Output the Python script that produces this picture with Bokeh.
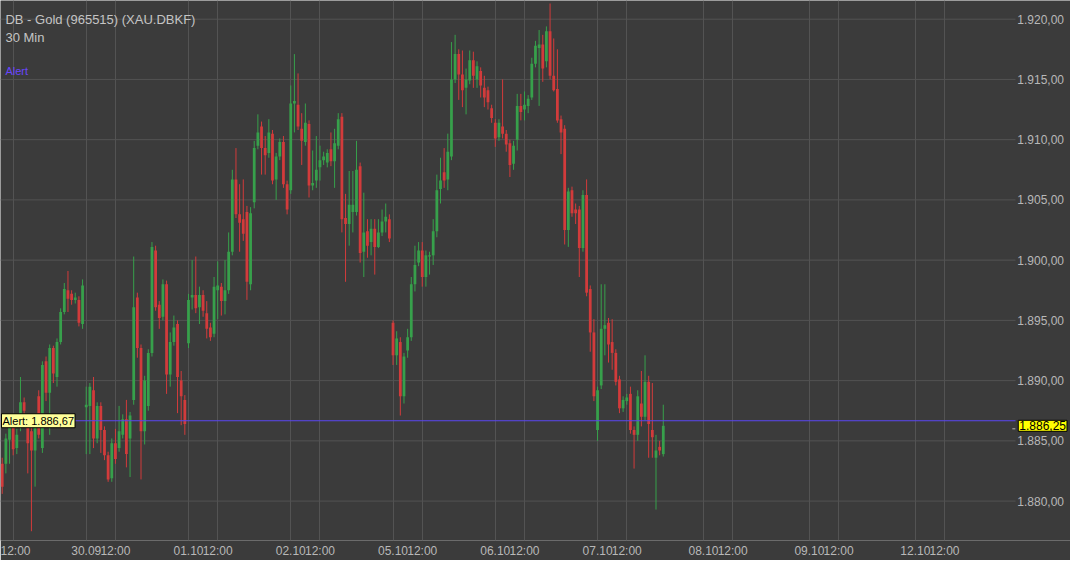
from bokeh.plotting import figure
from bokeh.models import (ColumnDataSource, Range1d, FixedTicker, Label,
                          AllLabels)
from bokeh.core.properties import value
from bokeh.embed import file_html
from bokeh.resources import INLINE

# ---------------- data (30 min bars, 08:00-22:00 per trading day) ----------------
first_slot = 5  # 29.09 10:30
open_ = [
    1883.1, 1883.1, 1885.1, 1886.3, 1884.4, 1886.3, 1888.2, 1886.4, 1885.8, 1884.2,
    1888.7, 1884.4, 1891.6, 1889.0, 1892.7, 1890.3, 1893.2, 1895.7, 1897.5, 1897.2,
    1896.7, 1896.7, 1894.7, 1887.8, 1887.9, 1889.2, 1885.2, 1887.9, 1885.9, 1883.8,
    1881.9, 1884.8, 1884.4, 1885.5, 1886.8, 1885.2, 1888.4, 1896.9, 1892.7, 1885.8,
    1887.9, 1892.3, 1900.8, 1896.3, 1895.3, 1898.0, 1890.5, 1893.2, 1894.7, 1890.0,
    1888.4, 1893.1, 1896.9, 1897.1, 1896.1, 1897.1, 1895.6, 1894.4, 1893.9, 1897.5,
    1897.8, 1896.6, 1897.5, 1900.7, 1906.7, 1903.8, 1903.4, 1904.0, 1898.0, 1904.8,
    1909.5, 1911.1, 1909.3, 1908.9, 1910.5, 1906.7, 1908.6, 1909.8, 1906.3, 1905.8,
    1913.0, 1912.9, 1910.9, 1909.8, 1911.3, 1906.2, 1906.6, 1907.7, 1908.3, 1908.1,
    1909.2, 1908.2, 1909.5, 1911.9, 1903.5, 1903.0, 1904.0, 1904.0, 1907.8, 1900.7,
    1902.4, 1901.5, 1902.6, 1901.1, 1902.3, 1903.2, 1903.4, 1894.8, 1892.1, 1893.2,
    1888.7, 1892.5, 1893.6, 1898.0, 1899.8, 1900.8, 1898.6, 1900.3, 1900.4, 1902.4,
    1905.9, 1907.3, 1906.7, 1908.6, 1915.0, 1917.1, 1915.4, 1914.3, 1914.9, 1916.6,
    1915.0, 1915.7, 1914.3, 1914.1, 1912.6, 1911.4, 1910.2, 1911.1, 1910.5, 1909.7,
    1908.0, 1910.0, 1912.8, 1912.5, 1912.8, 1913.5, 1916.3, 1917.6, 1917.9, 1916.5,
    1919.0, 1915.3, 1914.2, 1911.7, 1910.9, 1902.5, 1905.8, 1904.2, 1904.2, 1901.0,
    1905.4, 1897.6, 1894.0, 1885.9, 1889.6, 1894.3, 1894.8, 1893.2, 1892.3, 1890.1,
    1887.7, 1888.3, 1888.9, 1885.9, 1885.5, 1888.1, 1887.0, 1889.9, 1885.9, 1883.6,
    1884.5, 1883.9,
]
high = [
    1883.6, 1885.6, 1886.7, 1886.6, 1886.0, 1890.3, 1888.6, 1887.0, 1886.2, 1887.0,
    1889.2, 1891.6, 1892.0, 1893.0, 1892.9, 1893.5, 1896.0, 1898.1, 1899.1, 1897.5,
    1897.3, 1897.0, 1898.4, 1889.5, 1889.8, 1890.3, 1888.2, 1888.2, 1886.2, 1884.1,
    1885.2, 1886.0, 1887.9, 1887.2, 1888.4, 1887.4, 1900.3, 1897.3, 1893.0, 1890.4,
    1892.6, 1901.5, 1901.2, 1896.6, 1898.4, 1898.3, 1894.0, 1895.4, 1895.0, 1890.8,
    1888.8, 1897.2, 1900.0, 1900.3, 1897.8, 1897.5, 1896.6, 1894.8, 1898.6, 1899.9,
    1898.1, 1900.0, 1902.3, 1907.5, 1909.3, 1906.3, 1906.7, 1904.5, 1904.4, 1909.9,
    1912.1, 1911.5, 1910.3, 1911.7, 1910.8, 1908.9, 1910.1, 1910.3, 1906.6, 1914.5,
    1917.1, 1915.5, 1912.2, 1913.0, 1911.6, 1909.1, 1910.3, 1909.5, 1909.0, 1909.2,
    1910.6, 1910.9, 1912.2, 1912.2, 1905.5, 1907.4, 1907.4, 1909.9, 1908.1, 1905.6,
    1903.4, 1903.4, 1903.4, 1903.4, 1904.2, 1904.7, 1903.8, 1895.0, 1894.1, 1893.6,
    1892.3, 1894.3, 1898.6, 1901.2, 1901.5, 1901.5, 1900.8, 1900.7, 1903.4, 1907.1,
    1908.5, 1909.3, 1910.5, 1918.1, 1918.7, 1917.5, 1917.4, 1915.9, 1917.4, 1917.3,
    1916.5, 1916.0, 1915.3, 1914.4, 1912.9, 1911.7, 1911.7, 1915.0, 1910.8, 1910.0,
    1909.9, 1913.8, 1913.8, 1914.0, 1913.7, 1916.8, 1918.2, 1919.1, 1918.7, 1919.4,
    1921.3, 1918.4, 1917.5, 1912.0, 1911.2, 1906.0, 1906.1, 1904.7, 1904.5, 1905.8,
    1906.7, 1897.9, 1895.1, 1889.5, 1898.0, 1898.0, 1895.2, 1895.1, 1892.6, 1890.4,
    1888.7, 1888.9, 1889.5, 1886.2, 1889.2, 1890.8, 1892.1, 1890.4, 1889.8, 1885.5,
    1885.0, 1888.0,
]
low = [
    1880.6, 1882.3, 1883.1, 1883.8, 1883.9, 1885.8, 1886.8, 1882.3, 1877.5, 1881.2,
    1885.2, 1884.0, 1888.3, 1885.5, 1889.8, 1889.5, 1893.0, 1895.5, 1895.7, 1896.3,
    1896.4, 1894.5, 1894.3, 1883.9, 1883.9, 1884.4, 1884.8, 1884.0, 1883.4, 1881.6,
    1881.6, 1883.1, 1884.1, 1885.2, 1882.8, 1882.0, 1888.0, 1891.9, 1881.8, 1884.7,
    1887.5, 1892.0, 1895.8, 1894.3, 1895.0, 1888.9, 1889.5, 1892.9, 1887.3, 1886.3,
    1885.5, 1892.7, 1895.9, 1895.6, 1894.7, 1895.3, 1893.5, 1893.3, 1893.6, 1895.1,
    1895.4, 1895.5, 1897.2, 1900.4, 1903.5, 1900.7, 1901.6, 1896.7, 1897.5, 1904.3,
    1909.2, 1907.1, 1907.1, 1908.5, 1906.3, 1905.0, 1908.3, 1906.0, 1903.8, 1905.5,
    1910.6, 1910.8, 1907.9, 1909.5, 1905.2, 1905.8, 1906.0, 1906.6, 1907.9, 1907.7,
    1907.8, 1906.0, 1909.2, 1902.3, 1898.2, 1901.2, 1902.3, 1903.7, 1899.8, 1898.6,
    1900.2, 1900.4, 1898.8, 1901.0, 1902.0, 1902.3, 1901.5, 1891.3, 1891.3, 1887.1,
    1888.1, 1891.9, 1893.3, 1897.4, 1899.5, 1897.8, 1897.8, 1898.8, 1899.6, 1901.9,
    1904.7, 1906.0, 1905.8, 1908.3, 1914.7, 1913.3, 1912.7, 1912.1, 1914.6, 1914.3,
    1914.3, 1913.5, 1912.7, 1912.5, 1911.4, 1909.4, 1909.9, 1910.1, 1909.0, 1906.9,
    1907.5, 1909.1, 1911.6, 1911.6, 1912.2, 1913.3, 1916.0, 1912.8, 1914.8, 1916.0,
    1915.0, 1914.0, 1911.4, 1908.8, 1901.3, 1901.1, 1903.6, 1903.0, 1898.6, 1900.7,
    1897.0, 1892.4, 1888.3, 1885.0, 1889.3, 1892.1, 1891.5, 1890.9, 1889.6, 1887.3,
    1887.4, 1888.0, 1885.6, 1882.7, 1885.0, 1886.2, 1886.7, 1883.6, 1883.6, 1879.3,
    1883.8, 1883.7,
]
close = [
    1881.2, 1885.2, 1886.2, 1884.3, 1885.5, 1888.2, 1887.5, 1884.8, 1884.2, 1886.6,
    1885.5, 1891.3, 1889.0, 1892.7, 1890.6, 1893.2, 1895.7, 1897.6, 1896.8, 1896.7,
    1896.9, 1894.8, 1897.9, 1888.0, 1889.5, 1885.2, 1887.9, 1885.9, 1883.8, 1881.8,
    1884.8, 1883.5, 1885.8, 1886.8, 1883.9, 1887.1, 1896.1, 1892.7, 1885.8, 1890.0,
    1892.3, 1901.1, 1896.1, 1895.2, 1898.0, 1890.5, 1893.2, 1894.4, 1890.3, 1888.7,
    1886.4, 1896.7, 1897.1, 1896.0, 1897.1, 1895.8, 1894.3, 1893.6, 1897.8, 1897.9,
    1896.6, 1897.5, 1900.7, 1906.7, 1903.8, 1903.1, 1902.2, 1898.2, 1903.9, 1909.3,
    1910.6, 1909.3, 1908.7, 1910.6, 1906.6, 1908.6, 1909.8, 1906.3, 1904.2, 1913.0,
    1913.2, 1911.1, 1909.9, 1911.4, 1906.2, 1906.4, 1907.5, 1908.3, 1908.6, 1908.9,
    1908.2, 1909.7, 1911.7, 1903.4, 1903.0, 1904.6, 1904.6, 1907.5, 1900.6, 1902.3,
    1901.2, 1902.6, 1901.1, 1902.3, 1903.2, 1903.6, 1901.8, 1892.1, 1893.5, 1888.7,
    1892.0, 1893.6, 1898.0, 1899.6, 1900.8, 1898.6, 1900.4, 1900.4, 1902.4, 1905.8,
    1906.6, 1906.6, 1909.0, 1915.0, 1917.1, 1915.4, 1914.1, 1915.0, 1916.6, 1915.3,
    1916.1, 1914.5, 1913.5, 1913.1, 1911.8, 1910.1, 1911.4, 1910.5, 1909.6, 1907.9,
    1909.5, 1912.8, 1912.3, 1912.9, 1913.4, 1916.3, 1917.8, 1917.9, 1915.9, 1919.0,
    1915.3, 1914.1, 1911.6, 1910.6, 1902.5, 1905.7, 1903.9, 1903.9, 1901.0, 1905.4,
    1897.3, 1894.0, 1888.7, 1889.2, 1894.3, 1894.6, 1893.0, 1892.3, 1889.9, 1887.7,
    1888.4, 1888.6, 1885.9, 1885.5, 1888.7, 1887.0, 1889.9, 1886.4, 1885.3, 1884.2,
    1884.2, 1886.25,
]
slots = list(range(first_slot, first_slot + len(close)))

# x-axis ticks (bar-slot positions) and their labels
tick_slots = [8, 28, 36, 56, 64, 84, 92, 112, 120, 140, 148, 168, 176,
              197, 205, 226, 234, 255, 263]
tick_labels = ["12:00", "30.09", "12:00", "01.10", "12:00", "02.10", "12:00",
               "05.10", "12:00", "06.10", "12:00", "07.10", "12:00",
               "08.10", "12:00", "09.10", "12:00", "12.10", "12:00"]
price_ticks = [1880, 1885, 1890, 1895, 1900, 1905, 1910, 1915, 1920]
alert_level = 1886.67
last_price = close[-1]

title_lines = ["DB - Gold (965515) (XAU.DBKF)", "30 Min"]


def de(v):
    s = f"{v:,.2f}"
    return s.replace(",", "X").replace(".", ",").replace("X", ".")


# ---------------- styling / layout ----------------
BG = "#3b3b3b"
GRID = "#535353"
TXT = "#b8b8b8"
UP = "#37a04b"
DOWN = "#d23b3b"
FONT = "Liberation Sans"

W, H = 1070, 560
FRAME_H = 542
# reference-pixel geometry (chart drawn at 1086x576, scaled to W x H)
X0, X1 = 4.53, 297.49          # bar-slot positions at ref x = 0 and 1086
Y0, Y1 = 1876.73, 1921.55      # prices at ref y = 557.4 and 0
FW_REF, FH_REF = 1086.0, 557.4
PRICE_AREA_REF = 1030.2        # ref x where the price-label column starts


def rx(px):
    return X0 + px / FW_REF * (X1 - X0)


def ry(py):
    return Y1 - py / FH_REF * (Y1 - Y0)


p = figure(width=W, height=H, output_backend="svg", toolbar_location=None,
           x_range=Range1d(X0, X1), y_range=Range1d(Y0, Y1),
           y_axis_location=None,
           min_border_left=0, min_border_top=0, min_border_right=0,
           min_border_bottom=H - FRAME_H,
           background_fill_color=BG, border_fill_color=BG,
           outline_line_color=None)

# vertical grid (date / 12:00 lines)
p.xgrid.ticker = FixedTicker(ticks=tick_slots)
p.xgrid.grid_line_color = GRID
p.ygrid.visible = False

# horizontal price grid, stopping at the price-label column
x_grid_end = rx(PRICE_AREA_REF)
p.segment(x0=[X0] * len(price_ticks), x1=[x_grid_end] * len(price_ticks),
          y0=price_ticks, y1=price_ticks, line_color=GRID, line_width=1)

# x axis
xa = p.xaxis[0]
xa.ticker = FixedTicker(ticks=tick_slots)
xa.major_label_overrides = {t: l for t, l in zip(tick_slots, tick_labels)}
xa.major_label_policy = AllLabels()
xa.axis_line_color = None
xa.major_tick_line_color = None
xa.minor_tick_line_color = None
xa.major_tick_in = 0
xa.major_tick_out = 0
xa.major_label_text_color = TXT
xa.major_label_text_font = FONT
xa.major_label_text_font_size = "12px"
xa.major_label_standoff = 3

# price labels (right column)
p.text(x=[rx(1032)] * len(price_ticks), y=price_ticks,
       text=[de(t) for t in price_ticks], text_font=value(FONT),
       text_font_size="12px", text_color=TXT, text_baseline="middle",
       text_align="left")

# candles
colors = [UP if c >= o else DOWN for o, c in zip(open_, close)]
tops = [max(o, c) for o, c in zip(open_, close)]
bots = [min(o, c) for o, c in zip(open_, close)]
tops = [t if t - b >= 0.1 else b + 0.1 for t, b in zip(tops, bots)]
src = ColumnDataSource(dict(x=slots, high=high, low=low, top=tops, bot=bots,
                            color=colors))
p.segment(x0="x", y0="low", x1="x", y1="high", line_color="color",
          line_width=1, source=src)
p.vbar(x="x", width=0.76, top="top", bottom="bot", fill_color="color",
       line_color=None, source=src)

# alert line
p.segment(x0=[X0], x1=[x_grid_end], y0=[alert_level], y1=[alert_level],
          line_color="#5a46f0", line_width=1)

# small marker dash left of the last-price box
p.segment(x0=[rx(1027)], x1=[rx(1030)], y0=[last_price - 0.25],
          y1=[last_price - 0.25], line_color=TXT, line_width=1)

# texts
p.add_layout(Label(x=rx(5), y=ry(20), text=title_lines[0], text_font=FONT,
                   text_font_size="13px", text_color="#c4c4c4",
                   text_baseline="middle"))
p.add_layout(Label(x=rx(5), y=ry(38), text=title_lines[1], text_font=FONT,
                   text_font_size="13px", text_color="#c4c4c4",
                   text_baseline="middle"))
p.add_layout(Label(x=rx(5), y=ry(73), text="Alert", text_font=FONT,
                   text_font_size="11px", text_color="#6a46ff",
                   text_baseline="middle"))

p.add_layout(Label(x=rx(1), y=alert_level, text="Alert: " + de(alert_level),
                   text_font=FONT, text_font_size="11px", text_color="black",
                   text_baseline="middle", background_fill_color="#ffff99",
                   border_line_color="black", border_line_width=1, padding=1))

# last-price marker in the price column
p.add_layout(Label(x=rx(1033), y=last_price, text=de(last_price),
                   text_font=FONT, text_font_size="12px", text_color="black",
                   text_baseline="middle", background_fill_color="#ffff00",
                   border_line_color="black", border_line_width=1, padding=1))

open("out.html", "w").write(file_html(p, INLINE))
